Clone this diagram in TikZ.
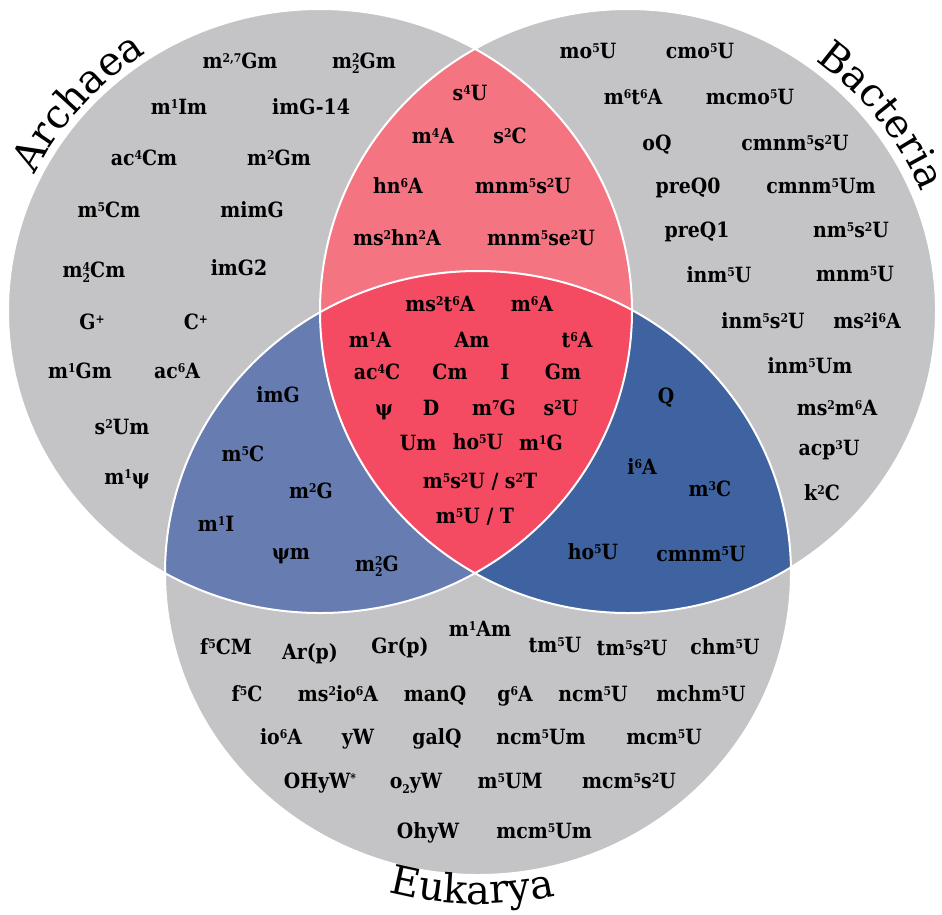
\documentclass[tikz,border=0pt]{standalone}
\usepackage{fontspec}
\setmainfont{DejaVu Serif}
\newfontfamily\condfamily{DejaVu Serif Condensed}
\usepackage{tikz}
\usetikzlibrary{decorations.text}

\definecolor{venngray}{RGB}{196,196,198}
\definecolor{lensred}{RGB}{245,116,130}
\definecolor{corered}{RGB}{244,75,98}
\definecolor{archblue}{RGB}{103,124,177}
\definecolor{bactblue}{RGB}{62,99,160}

\newcommand{\modfont}{\condfamily\fontsize{21}{21}\selectfont\bfseries}
\newcommand{\labfont}{\fontsize{40}{40}\selectfont}
\newcommand{\modup}[1]{\raisebox{6.4pt}{\fontsize{12}{12}\selectfont #1}}
\newcommand{\moddn}[1]{\raisebox{-4.5pt}{\fontsize{12}{12}\selectfont #1}}
\newcommand{\modud}[2]{\rlap{\modup{#1}}\moddn{#2}}

\tikzset{
  mod/.style={font=\modfont, anchor=base, inner sep=0pt, yshift=-7.5pt},
  kingdom/.style={decorate, decoration={text along path, text align=center, text={#1}}},
}

\begin{document}
\begin{tikzpicture}[x=1pt,y=1pt]
  \useasboundingbox (0,-914) rectangle (942,0);
  \coordinate (A) at (320,-311);
  \coordinate (B) at (628,-311);
  \coordinate (E) at (478,-573);

  \fill[venngray] (A) ellipse [x radius=312pt, y radius=302pt];
  \fill[venngray] (B) ellipse [x radius=308pt, y radius=302pt];
  \fill[venngray] (E) ellipse [x radius=313pt, y radius=302pt];
  \begin{scope}
    \clip (A) ellipse [x radius=312pt, y radius=302pt];
    \fill[lensred] (B) ellipse [x radius=308pt, y radius=302pt];
    \fill[archblue] (E) ellipse [x radius=313pt, y radius=302pt];
  \end{scope}
  \begin{scope}
    \clip (B) ellipse [x radius=308pt, y radius=302pt];
    \fill[bactblue] (E) ellipse [x radius=313pt, y radius=302pt];
  \end{scope}
  \begin{scope}
    \clip (A) ellipse [x radius=312pt, y radius=302pt];
    \clip (B) ellipse [x radius=308pt, y radius=302pt];
    \fill[corered] (E) ellipse [x radius=313pt, y radius=302pt];
  \end{scope}
  \draw[white, line width=2pt] (A) ellipse [x radius=312pt, y radius=302pt]
    (B) ellipse [x radius=308pt, y radius=302pt]
    (E) ellipse [x radius=313pt, y radius=302pt];

  \path[kingdom={|\labfont|Archaea}] (A) ++(161:318pt and 308pt)
    arc [start angle=161, end angle=116, x radius=318pt, y radius=308pt];
  \path[kingdom={|\labfont|Bacteria}] (B) ++(60:317pt and 311pt)
    arc [start angle=60, end angle=16, x radius=317pt, y radius=311pt];
  \path[kingdom={|\labfont|Eukarya}] (E) ++(-116:342pt and 331pt)
    arc [start angle=-116, end angle=-66, x radius=342pt, y radius=331pt];

  % Archaea only
  \node[mod] (ar1) at (240,-61) {m\modup{2,7}Gm};
  \node[mod] (ar2) at (364,-61) {m\modud{2}{2}Gm};
  \node[mod] (ar3) at (179,-107) {m\modup{1}Im};
  \node[mod] (ar4) at (311,-107) {imG-14};
  \node[mod] (ar5) at (144,-158) {ac\modup{4}Cm};
  \node[mod] (ar6) at (279,-158) {m\modup{2}Gm};
  \node[mod] (ar7) at (109,-210) {m\modup{5}Cm};
  \node[mod] (ar8) at (252,-210) {mimG};
  \node[mod] (ar9) at (94,-270) {m\modud{4}{2}Cm};
  \node[mod] (ar10) at (239,-268) {imG2};
  \node[mod] (ar11) at (92,-322) {G\modup{+}};
  \node[mod] (ar12) at (196,-322) {C\modup{+}};
  \node[mod] (ar13) at (80,-371) {m\modup{1}Gm};
  \node[mod] (ar14) at (177,-371) {ac\modup{6}A};
  \node[mod] (ar15) at (122,-427) {s\modup{2}Um};
  \node[mod] (ar16) at (127,-477) {m\modup{1}ψ};

  % Archaea and Bacteria
  \node[mod] (ab1) at (470,-93) {s\modup{4}U};
  \node[mod] (ab2) at (433,-136) {m\modup{4}A};
  \node[mod] (ab3) at (510,-136) {s\modup{2}C};
  \node[mod] (ab4) at (398,-186) {hn\modup{6}A};
  \node[mod] (ab5) at (523,-186) {mnm\modup{5}s\modup{2}U};
  \node[mod] (ab6) at (397,-238) {ms\modup{2}hn\modup{2}A};
  \node[mod] (ab7) at (541,-238) {mnm\modup{5}se\modup{2}U};

  % Bacteria only
  \node[mod] (ba1) at (588,-51) {mo\modup{5}U};
  \node[mod] (ba2) at (700,-51) {cmo\modup{5}U};
  \node[mod] (ba3) at (633,-97) {m\modup{6}t\modup{6}A};
  \node[mod] (ba4) at (750,-97) {mcmo\modup{5}U};
  \node[mod] (ba5) at (657,-143) {oQ};
  \node[mod] (ba6) at (795,-143) {cmnm\modup{5}s\modup{2}U};
  \node[mod] (ba7) at (688,-186) {preQ0};
  \node[mod] (ba8) at (821,-186) {cmnm\modup{5}Um};
  \node[mod] (ba9) at (697,-230) {preQ1};
  \node[mod] (ba10) at (851,-230) {nm\modup{5}s\modup{2}U};
  \node[mod] (ba11) at (719,-275) {inm\modup{5}U};
  \node[mod] (ba12) at (855,-274) {mnm\modup{5}U};
  \node[mod] (ba13) at (763,-321) {inm\modup{5}s\modup{2}U};
  \node[mod] (ba14) at (867,-321) {ms\modup{2}i\modup{6}A};
  \node[mod] (ba15) at (810,-366) {inm\modup{5}Um};
  \node[mod] (ba16) at (837,-408) {ms\modup{2}m\modup{6}A};
  \node[mod] (ba17) at (829,-448) {acp\modup{3}U};
  \node[mod] (ba18) at (822,-493) {k\modup{2}C};

  % Archaea and Eukarya
  \node[mod] (ae1) at (278,-395) {imG};
  \node[mod] (ae2) at (243,-454) {m\modup{5}C};
  \node[mod] (ae3) at (311,-491) {m\modup{2}G};
  \node[mod] (ae4) at (216,-524) {m\modup{1}I};
  \node[mod] (ae5) at (291,-552) {ψm};
  \node[mod] (ae6) at (377,-564) {m\modud{2}{2}G};

  % Bacteria and Eukarya
  \node[mod] (be1) at (666,-396) {Q};
  \node[mod] (be2) at (642,-467) {i\modup{6}A};
  \node[mod] (be3) at (710,-489) {m\modup{3}C};
  \node[mod] (be4) at (593,-552) {ho\modup{5}U};
  \node[mod] (be5) at (701,-554) {cmnm\modup{5}U};

  % all three
  \node[mod] (c1) at (440,-304) {ms\modup{2}t\modup{6}A};
  \node[mod] (c2) at (532,-304) {m\modup{6}A};
  \node[mod] (c3) at (370,-340) {m\modup{1}A};
  \node[mod] (c4) at (472,-340) {Am};
  \node[mod] (c5) at (577,-340) {t\modup{6}A};
  \node[mod] (c6) at (377,-372) {ac\modup{4}C};
  \node[mod] (c7) at (450,-372) {Cm};
  \node[mod] (c8) at (505,-372) {I};
  \node[mod] (c9) at (563,-372) {Gm};
  \node[mod] (c10) at (384,-408) {ψ};
  \node[mod] (c11) at (431,-408) {D};
  \node[mod] (c12) at (494,-408) {m\modup{7}G};
  \node[mod] (c13) at (561,-408) {s\modup{2}U};
  \node[mod] (c14) at (418,-443) {Um};
  \node[mod] (c15) at (478,-442) {ho\modup{5}U};
  \node[mod] (c16) at (541,-443) {m\modup{1}G};
  \node[mod] (c17) at (480,-481) {m\modup{5}s\modup{2}U / s\modup{2}T};
  \node[mod] (c18) at (475,-516) {m\modup{5}U / T};

  % Eukarya only
  \node[mod] (eu1) at (226,-647) {f\modup{5}CM};
  \node[mod] (eu2) at (310,-652) {Ar(p)};
  \node[mod] (eu3) at (400,-646) {Gr(p)};
  \node[mod] (eu4) at (480,-629) {m\modup{1}Am};
  \node[mod] (eu5) at (555,-645) {tm\modup{5}U};
  \node[mod] (eu6) at (632,-648) {tm\modup{5}s\modup{2}U};
  \node[mod] (eu7) at (725,-647) {chm\modup{5}U};
  \node[mod] (eu8) at (247,-694) {f\modup{5}C};
  \node[mod] (eu9) at (338,-694) {ms\modup{2}io\modup{6}A};
  \node[mod] (eu10) at (435,-694) {manQ};
  \node[mod] (eu11) at (515,-694) {g\modup{6}A};
  \node[mod] (eu12) at (593,-694) {ncm\modup{5}U};
  \node[mod] (eu13) at (701,-694) {mchm\modup{5}U};
  \node[mod] (eu14) at (281,-737) {io\modup{6}A};
  \node[mod] (eu15) at (358,-737) {yW};
  \node[mod] (eu16) at (437,-737) {galQ};
  \node[mod] (eu17) at (541,-737) {ncm\modup{5}Um};
  \node[mod] (eu18) at (664,-737) {mcm\modup{5}U};
  \node[mod] (eu19) at (320,-781) {OHyW\modup{*}};
  \node[mod] (eu20) at (416,-781) {o\moddn{2}yW};
  \node[mod] (eu21) at (510,-781) {m\modup{5}UM};
  \node[mod] (eu22) at (629,-781) {mcm\modup{5}s\modup{2}U};
  \node[mod] (eu23) at (428,-831) {OhyW};
  \node[mod] (eu24) at (544,-831) {mcm\modup{5}Um};
\end{tikzpicture}
\end{document}
